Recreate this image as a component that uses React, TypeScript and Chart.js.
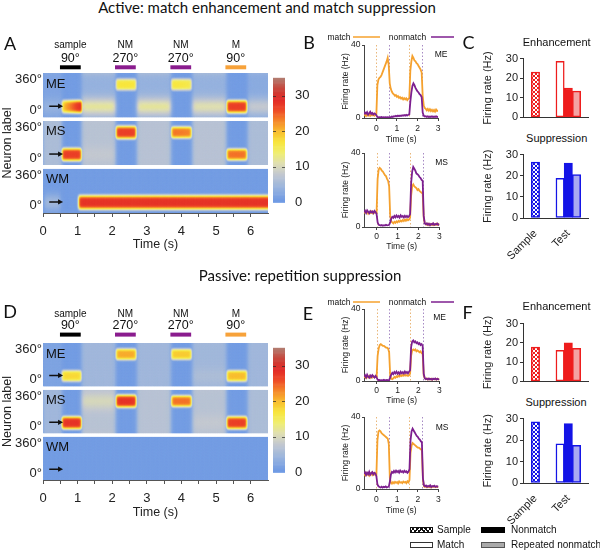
import React, { useEffect, useRef } from "react";
import { Chart, registerables } from "chart.js";

Chart.register(...registerables);

const FONT = "'Liberation Sans', Arial, Helvetica, sans-serif";
const TITLE_FONT = "Lato, 'Open Sans', sans-serif";
Chart.defaults.font.family = FONT;
Chart.defaults.color = "#222";

const ORANGE = "#f5a12e";
const PURPLE = "#7d1f8f";
const RED = "#ee1c1c";
const BLUE = "#1414e6";

// ---------------- Heatmap (panels A, D) ----------------
const heatTimeMax = 6.5;
const heatTicks = [0, 0.5, 1, 1.5, 2, 2.5, 3, 3.5, 4, 4.5, 5, 5.5, 6];
const stimOnsets = [0.49, 2.08, 3.68, 5.27];
const stimDuration = 0.6;
const stimNames = ["sample", "NM", "NM", "M"];
const stimAngles = ["90°", "270°", "270°", "90°"];
const stimColors = ["#000000", "#8a1c8e", "#8a1c8e", "#f7a23a"];
const rowNames = ["ME", "MS", "WM"];
const cueDeg = 90;
const arrowTimes = [0.18, 0.58];
const heatFloor = 1;
const rowTickDeg = [58, 305];
const rowTickLabels = ["0°", "360°"];

// delay background: [tStart, tEnd, baseRate, peakRate, peakDeg]
// response blobs: [tStart, tEnd, centerDeg, halfWidthDeg, rateStart, rateEnd]
const activeME_bg = [[0, 0.55, 2, 4, 90], [1.12, 2.1, 4, 12, 90], [2.72, 3.7, 4, 12, 90], [4.32, 5.3, 4, 11, 90], [5.92, 6.6, 3, 8, 90]];
const activeME_blobs = [[0.55, 1.14, 90, 55, 19, 30], [2.11, 2.7, 270, 50, 17, 17], [3.71, 4.3, 270, 50, 17, 16], [5.31, 5.9, 90, 55, 27, 27]];
const activeMS_bg = [[0, 0.55, 6, 6, 90], [1.12, 2.1, 7, 8, 90], [2.72, 3.7, 7, 7, 90], [4.32, 5.3, 7, 7, 90], [5.92, 6.6, 6, 6, 90]];
const activeMS_blobs = [[0.55, 1.12, 90, 55, 27, 27], [2.11, 2.7, 270, 55, 27, 27], [3.71, 4.3, 270, 50, 24, 23], [5.31, 5.9, 90, 50, 24, 24]];
const activeWM_bg = [[0.05, 0.5, 1, 5, 90]];
const activeWM_blobs = [[1.03, 6.8, 90, 60, 28, 28]];
const passiveME_bg = [[0, 0.55, 2, 2, 90], [1.12, 2.1, 5, 5, 90], [2.72, 3.7, 5, 5, 90], [4.32, 5.3, 5, 6, 90], [5.92, 6.6, 5, 5, 90]];
const passiveME_blobs = [[0.55, 1.12, 90, 50, 18, 18], [2.11, 2.7, 270, 50, 21, 21], [3.71, 4.3, 270, 48, 19, 19], [5.31, 5.9, 90, 50, 20, 20]];
const passiveMS_bg = [[0, 0.55, 5, 5, 90], [1.12, 2.1, 7, 10, 270], [2.72, 3.7, 7, 7, 90], [4.32, 5.3, 7, 8, 90], [5.92, 6.6, 6, 6, 90]];
const passiveMS_blobs = [[0.55, 1.12, 90, 55, 28, 28], [2.11, 2.7, 270, 55, 28, 28], [3.71, 4.3, 270, 50, 24, 24], [5.31, 5.9, 90, 55, 27, 27]];
const passiveWM_bg: number[][] = [];
const passiveWM_blobs: number[][] = [];

const colorbarTicks = [0, 10, 20, 30];
const colorbarMax = 35;
const cmapStops = [0, 4, 8, 11, 14, 17, 20, 23, 26, 29, 32, 35];
const cmapColors = [[105, 150, 228], [150, 178, 222], [195, 200, 208], [222, 222, 178], [240, 238, 112], [248, 230, 62], [248, 190, 48], [245, 135, 42], [238, 75, 40], [225, 42, 40], [200, 68, 58], [178, 124, 112]];

// ---------------- Firing-rate traces (panels B, E) ----------------
const lineTimes = [-0.6, -0.55, -0.5, -0.45, -0.4, -0.35, -0.3, -0.25, -0.2, -0.15, -0.1, -0.05, 0, 0.05, 0.1, 0.15, 0.2, 0.25, 0.3, 0.35, 0.4, 0.45, 0.5, 0.55, 0.6, 0.65, 0.7, 0.75, 0.8, 0.85, 0.9, 0.95, 1, 1.05, 1.1, 1.15, 1.2, 1.25, 1.3, 1.35, 1.4, 1.45, 1.5, 1.55, 1.6, 1.65, 1.7, 1.75, 1.8, 1.85, 1.9, 1.95, 2, 2.05, 2.1, 2.15, 2.2, 2.25, 2.3, 2.35, 2.4, 2.45, 2.5, 2.55, 2.6, 2.65, 2.7, 2.75, 2.8, 2.85, 2.9, 2.95, 3];
const lineTicks = [0, 1, 2, 3];
const rateTicks = [0, 40];
const eventTimes = [0, 0.6, 1.6, 2.2];
const eventColors = ["#e9b77a", "#a78ac4", "#e9b77a", "#a78ac4"];

const activeME_match = [1.2, 2.0, 1.0, 1.8, 1.3, 2.2, 1.1, 1.7, 1.4, 2.0, 1.2, 1.6,
  2.0, 18, 21, 22, 22.5, 23.5, 25, 26.5, 28, 29.5, 31, 33,
  29, 19, 16, 14.5, 13.5, 13, 12.2, 12.6, 11.6, 12, 11, 11.5, 10.6, 11.1, 10.2, 10.9, 10.2, 10.8, 9.8, 10.5,
  11, 26, 31, 34, 33, 31.5, 31, 30, 29.5, 28.5, 27.5, 26.5, 25,
  12, 7, 5.5, 5, 4.2, 5, 4, 4.8, 3.8, 4.5, 3.6, 4.4, 3.5, 4.6, 3.8, 4.2];
const activeME_nonmatch = [2.0, 3.0, 2.4, 3.2, 1.8, 2.6, 3.4, 2.2, 2.8, 1.9, 2.5, 2.2,
  1.5, 0.6, 0.4, 0.5, 0.3, 0.5, 0.2, 0.4, 0.3, 0.5, 0.3, 0.4,
  0.3, 0.5, 0.4, 0.8, 0.6, 1.0, 0.8, 1.2, 0.9, 1.3, 1.0, 1.4, 1.1, 1.5, 1.2, 1.6, 1.3, 1.7, 1.4, 1.8,
  2.0, 9, 14, 17.5, 19, 18, 16.5, 15.5, 14.5, 14, 13, 12.5, 11.5,
  3, 1.2, 0.8, 1.0, 0.6, 0.9, 0.5, 0.8, 0.6, 0.9, 0.5, 0.8, 0.6, 0.9, 0.5, 0.7];
const activeMS_match = [7.5, 8.2, 7.8, 8.5, 7.2, 8.0, 7.6, 8.3, 7.4, 8.1, 7.7, 7.9,
  8, 26, 31, 32, 31.5, 30.5, 30, 29, 28, 27.5, 26, 25,
  22, 6, 3, 2.5, 2, 2.8, 2.2, 3, 2.5, 3.3, 2.8, 3.5, 3, 3.8, 3.2, 4, 3.4, 4.2, 3.6, 4,
  5, 17, 22, 23, 22, 21.5, 21, 20, 20.5, 19.5, 19, 18.5, 18,
  5, 2, 1.5, 1.2, 1.8, 1.0, 1.6, 1.1, 1.7, 1.0, 1.5, 1.2, 1.8, 1.1, 1.6, 1.3];
const activeMS_nonmatch = [8.0, 8.8, 7.6, 9.0, 8.2, 7.4, 8.6, 7.9, 8.4, 7.5, 8.7, 8.1,
  7, 2.5, 1.2, 1.0, 0.8, 1.1, 0.7, 1.0, 0.8, 1.2, 0.9, 1.0,
  1.2, 2.5, 4.5, 5.5, 5, 6, 5.2, 6.2, 5.4, 6, 5.1, 6.3, 5.5, 5.9, 5.2, 6.1, 5.4, 6.0, 5.3, 5.8,
  7, 24, 30, 32.5, 31.5, 30.5, 29, 28.5, 28, 27, 26.5, 25.5, 25,
  6, 2, 1.5, 2.0, 1.2, 1.8, 1.0, 1.7, 1.3, 2.0, 1.1, 1.6, 1.4, 1.9, 1.2, 1.5];
const passiveME_match = [1.8, 2.5, 1.6, 2.2, 2.0, 2.8, 1.7, 2.4, 1.9, 2.6, 2.1, 2.3,
  2, 14, 18, 20, 20.5, 20, 19.5, 19.5, 19, 18.5, 18.5, 18,
  16, 3, 1.2, 1.0, 1.5, 2.2, 1.8, 2.6, 2.2, 3.0, 2.5, 3.2, 2.8, 3.4, 2.9, 3.5, 3.0, 3.3, 2.8, 3.2,
  4, 14, 17, 17.5, 17, 17.5, 16.5, 17, 16.5, 16, 16.5, 15.5, 15,
  3, 1.5, 1.0, 1.4, 0.8, 1.2, 0.9, 1.3, 0.7, 1.1, 0.9, 1.2, 0.8, 1.3, 0.9, 1.1];
const passiveME_nonmatch = [2.5, 3.2, 2.0, 3.5, 2.4, 1.8, 3.0, 2.2, 3.3, 2.6, 1.9, 2.8,
  2, 0.8, 0.4, 0.6, 0.3, 0.5, 0.4, 0.7, 0.3, 0.5, 0.6, 0.4,
  0.5, 2, 3.5, 4.5, 3.8, 5, 4.2, 5.2, 4, 4.8, 3.9, 5.1, 4.3, 4.9, 4.1, 5.3, 4.4, 5.0, 4.2, 5.2,
  6, 19, 22, 22.5, 21.5, 22, 21, 21.5, 20.5, 21, 20, 20.5, 19.5,
  4, 1.5, 1.0, 1.3, 0.8, 1.4, 0.9, 1.2, 0.7, 1.3, 1.0, 1.4, 0.8, 1.2, 0.9, 1.1];
const passiveMS_match = [8.2, 7.6, 8.8, 7.9, 8.5, 7.4, 8.3, 8.9, 7.7, 8.4, 8.0, 8.6,
  8, 27, 32, 32.5, 32, 31, 30.5, 30, 29.5, 29, 28.5, 28,
  25, 6, 3.5, 3, 3.8, 3.2, 4, 3.4, 3.9, 3.1, 4.2, 3.5, 3.8, 3.3, 4.1, 3.6, 3.9, 3.2, 4.3, 3.7,
  5, 20, 24, 25.5, 25, 24.5, 24, 23.5, 23, 23, 22.5, 22, 21.5,
  5, 1.5, 1.2, 1.6, 1.0, 1.4, 1.1, 1.7, 0.9, 1.3, 1.2, 1.5, 1.0, 1.4, 1.1, 1.3];
const passiveMS_nonmatch = [8.5, 9.3, 7.8, 9.1, 8.2, 9.6, 7.9, 8.8, 9.4, 8.1, 9.0, 8.6,
  7, 2.5, 1.5, 1.1, 0.9, 1.3, 0.8, 1.2, 1.0, 1.4, 0.9, 1.1,
  1.3, 4, 8, 9.5, 9, 10, 9.2, 10.2, 9.4, 10, 9.1, 10.3, 9.5, 9.9, 9.2, 10.1, 9.4, 9.8, 9.0, 9.6,
  11, 27, 32, 33.5, 32.5, 31.5, 30.5, 29.5, 29, 28, 27.5, 26.5, 26,
  6, 2, 1.5, 1.9, 1.2, 1.7, 1.3, 2.0, 1.1, 1.6, 1.4, 1.8, 1.2, 1.5, 1.3, 1.6];

// ---------------- Bars (panels C, F) ----------------
const barGroups = ["Sample", "Test"];
const barConditions = ["Sample", "Match", "Nonmatch", "Repeated nonmatch"];
const barGroupOf = [0, 1, 1, 1];
const barOffsetOf = [0, -0.25, 0, 0.25];
const activeEnhancement = [23.1, 28.6, 15.0, 13.4];
const activeSuppression = [26.5, 18.8, 26.0, 20.6];
const passiveEnhancement = [17.8, 16.1, 20.0, 17.1];
const passiveSuppression = [28.5, 18.3, 27.7, 17.6];
const barTicks = [0, 10, 20, 30];

// ---------------- helpers ----------------
type Box = { x: number; y: number; w: number; h: number };
type Area = { l: number; t: number; r: number; b: number };

const ROW_SPAN = 360;
const ROW_GAP = 30;
const HEAT_YMAX = 3 * ROW_SPAN + 2 * ROW_GAP;
const rowBase = (r: number) => (2 - r) * (ROW_SPAN + ROW_GAP);

function sig(z: number) { return 1 / (1 + Math.exp(-z)); }
function win(t: number, a: number, b: number, s: number) { return sig((t - a) / s) * sig((b - t) / s); }
function angDist(a: number, b: number) { const d = Math.abs(a - b) % 360; return d > 180 ? 360 - d : d; }

function cellRate(row: any, t: number, deg: number) {
  let v = heatFloor;
  for (const [t0, t1, base, peak, c] of row.bg) {
    const w = win(t, t0, t1, 0.03);
    if (w < 0.01) continue;
    const g = Math.exp(-Math.pow(angDist(deg, c) / 70, 2));
    const lvl = base + (peak - base) * g;
    v = Math.max(v, heatFloor + (lvl - heatFloor) * w);
  }
  for (const [t0, t1, c, hw, r0, r1] of row.blobs) {
    const w = win(t, t0, t1, 0.02);
    if (w < 0.005) continue;
    const f = Math.min(1, Math.max(0, (t - t0) / (t1 - t0)));
    const g = Math.exp(-Math.pow(angDist(deg, c) / hw, 4));
    v = Math.max(v, (r0 + (r1 - r0) * f) * w * g);
  }
  return v;
}

function rateColor(v: number) {
  const x = Math.min(colorbarMax, Math.max(0, v));
  let i = 0;
  while (i < cmapStops.length - 2 && x > cmapStops[i + 1]) i++;
  const f = (x - cmapStops[i]) / (cmapStops[i + 1] - cmapStops[i]);
  const a = cmapColors[i], b = cmapColors[i + 1];
  return `rgb(${Math.round(a[0] + (b[0] - a[0]) * f)},${Math.round(a[1] + (b[1] - a[1]) * f)},${Math.round(a[2] + (b[2] - a[2]) * f)})`;
}

function hatch(color: string) {
  const c = document.createElement("canvas");
  c.width = 4; c.height = 4;
  const g = c.getContext("2d")!;
  g.fillStyle = "#fff"; g.fillRect(0, 0, 4, 4);
  g.strokeStyle = color; g.lineWidth = 1;
  g.beginPath(); g.moveTo(0, 0); g.lineTo(4, 4); g.moveTo(4, 0); g.lineTo(0, 4); g.stroke();
  return g.createPattern(c, "repeat");
}

const activeRows = [
  { name: rowNames[0], bg: activeME_bg, blobs: activeME_blobs },
  { name: rowNames[1], bg: activeMS_bg, blobs: activeMS_blobs },
  { name: rowNames[2], bg: activeWM_bg, blobs: activeWM_blobs },
];
const passiveRows = [
  { name: rowNames[0], bg: passiveME_bg, blobs: passiveME_blobs },
  { name: rowNames[1], bg: passiveMS_bg, blobs: passiveMS_blobs },
  { name: rowNames[2], bg: passiveWM_bg, blobs: passiveWM_blobs },
];

const heatSpecs = [
  { canvas: { x: 0, y: 36, w: 272, h: 222 }, area: { l: 43, t: 73, r: 268, b: 213 }, tickPad: 6.5, titlePad: 5.5, rows: activeRows, stimOff: [27.3, 14.4, 7.7] },
  { canvas: { x: 0, y: 305, w: 272, h: 222 }, area: { l: 43, t: 343, r: 268, b: 480 }, tickPad: 7, titlePad: 7, rows: passiveRows, stimOff: [28.5, 17.3, 10.4] },
];
const cbarSpecs = [
  { canvas: { x: 270, y: 60, w: 45, h: 160 }, area: { l: 273, t: 73, r: 285, b: 212 } },
  { canvas: { x: 270, y: 330, w: 45, h: 160 }, area: { l: 273, t: 342, r: 285, b: 480 } },
];
const lineSpecs = [
  { canvas: { x: 335, y: 38, w: 108, h: 108 }, area: { l: 364, t: 45, r: 440, b: 118 }, tickPad: 2.5, titlePad: 1.6, match: activeME_match, nonmatch: activeME_nonmatch },
  { canvas: { x: 335, y: 146, w: 108, h: 108 }, area: { l: 364, t: 153, r: 440, b: 227 }, tickPad: 1.2, titlePad: 2.2, match: activeMS_match, nonmatch: activeMS_nonmatch },
  { canvas: { x: 335, y: 302, w: 108, h: 108 }, area: { l: 364, t: 309, r: 440, b: 381 }, tickPad: 1.2, titlePad: 4.5, match: passiveME_match, nonmatch: passiveME_nonmatch },
  { canvas: { x: 335, y: 410, w: 108, h: 108 }, area: { l: 364, t: 417, r: 440, b: 489 }, tickPad: 2.2, titlePad: 2.2, match: passiveMS_match, nonmatch: passiveMS_nonmatch },
];
const barSpecs = [
  { canvas: { x: 480, y: 50, w: 112, h: 76 }, area: { l: 523, t: 58, r: 588, b: 123 }, values: activeEnhancement, color: RED, light: "#f4a3a3", labels: false },
  { canvas: { x: 480, y: 146, w: 112, h: 124 }, area: { l: 523, t: 154, r: 588, b: 218 }, values: activeSuppression, color: BLUE, light: "#a9a9f2", labels: true },
  { canvas: { x: 480, y: 315, w: 112, h: 75 }, area: { l: 523, t: 323, r: 588, b: 387 }, values: passiveEnhancement, color: RED, light: "#f4a3a3", labels: false },
  { canvas: { x: 480, y: 410, w: 112, h: 128 }, area: { l: 523, t: 418, r: 588, b: 483 }, values: passiveSuppression, color: BLUE, light: "#a9a9f2", labels: true },
];

const ALL_CANVASES: Box[] = [
  ...heatSpecs.map((s) => s.canvas),
  ...cbarSpecs.map((s) => s.canvas),
  ...lineSpecs.map((s) => s.canvas),
  ...barSpecs.map((s) => s.canvas),
];

function frame(c: Box, a: Area) {
  return { padTop: a.t - c.y, padRight: c.x + c.w - a.r, yW: a.l - c.x, xH: c.y + c.h - a.b };
}

const baseOpts = {
  animation: false as const,
  responsive: false,
  events: [] as any[],
  plugins: { legend: { display: false }, tooltip: { enabled: false } },
};

function makeHeatmap(cv: HTMLCanvasElement, spec: any) {
  const f = frame(spec.canvas, spec.area);
  const rows = spec.rows;
  const yTicks: number[] = [];
  const yLabels: string[] = [];
  [2, 1, 0].forEach((r) => rowTickDeg.forEach((d, k) => { yTicks.push(rowBase(r) + d); yLabels.push(rowTickLabels[k]); }));
  const plugin = {
    id: "heatcells",
    beforeDatasetsDraw(chart: any) {
      const { ctx, chartArea: a, scales } = chart;
      const x = scales.x, y = scales.y;
      const DT = 0.02, DD = 5;
      const nT = Math.round(heatTimeMax / DT), nD = Math.round(360 / DD);
      rows.forEach((row: any, r: number) => {
        const base = rowBase(r);
        const top = y.getPixelForValue(base + ROW_SPAN), bot = y.getPixelForValue(base);
        ctx.save();
        ctx.beginPath(); ctx.rect(a.left, top, a.right - a.left, bot - top); ctx.clip();
        for (let i = 0; i < nT; i++) {
          const t = i * DT;
          const px0 = x.getPixelForValue(t), px1 = x.getPixelForValue(t + DT);
          for (let j = 0; j < nD; j++) {
            const d = j * DD;
            ctx.fillStyle = rateColor(cellRate(row, t + DT / 2, d + DD / 2));
            const py0 = y.getPixelForValue(base + d + DD), py1 = y.getPixelForValue(base + d);
            ctx.fillRect(px0, py0, px1 - px0 + 0.6, py1 - py0 + 0.6);
          }
        }
        // arrow marking the cue label
        const ay = y.getPixelForValue(base + cueDeg);
        const ax0 = x.getPixelForValue(arrowTimes[0]), ax1 = x.getPixelForValue(arrowTimes[1]);
        ctx.strokeStyle = "#111"; ctx.fillStyle = "#111"; ctx.lineWidth = 1.5;
        ctx.beginPath(); ctx.moveTo(ax0, ay); ctx.lineTo(ax1 - 4, ay); ctx.stroke();
        ctx.beginPath(); ctx.moveTo(ax1, ay); ctx.lineTo(ax1 - 5, ay - 2.6); ctx.lineTo(ax1 - 5, ay + 2.6); ctx.closePath(); ctx.fill();
        ctx.font = `13px ${FONT}`; ctx.textAlign = "left"; ctx.textBaseline = "alphabetic";
        ctx.fillText(row.name, a.left + 3, top + 14.5);
        ctx.restore();
      });
    },
    afterDraw(chart: any) {
      const { ctx, chartArea: a, scales } = chart;
      const x = scales.x;
      ctx.save();
      ctx.textAlign = "center"; ctx.textBaseline = "middle"; ctx.fillStyle = "#111";
      stimOnsets.forEach((on, i) => {
        const p0 = x.getPixelForValue(on), p1 = x.getPixelForValue(on + stimDuration);
        const cx = (p0 + p1) / 2;
        ctx.font = `10px ${FONT}`; ctx.fillStyle = "#111";
        ctx.fillText(stimNames[i], cx, a.top - spec.stimOff[0]);
        ctx.font = `12.5px ${FONT}`;
        ctx.fillText(stimAngles[i], cx, a.top - spec.stimOff[1]);
        ctx.fillStyle = stimColors[i];
        ctx.fillRect(p0, a.top - spec.stimOff[2], p1 - p0, 4);
      });
      ctx.restore();
    },
  };
  return new Chart(cv, {
    type: "scatter",
    data: { datasets: [] },
    options: {
      ...baseOpts,
      layout: { padding: { top: f.padTop, right: f.padRight, left: 0, bottom: 0 } },
      scales: {
        x: {
          type: "linear", min: 0, max: heatTimeMax, z: 1,
          afterFit: (s: any) => { s.height = f.xH; },
          afterBuildTicks: (s: any) => { s.ticks = heatTicks.map((v) => ({ value: v })); },
          ticks: { autoSkip: false, maxRotation: 0, padding: spec.tickPad, font: { size: 13 }, color: "#222", callback: (v: any) => (Number.isInteger(v) ? String(v) : "") },
          grid: { drawOnChartArea: false, tickLength: 4, color: "#555" },
          border: { color: "#555" },
          title: { display: true, text: "Time (s)", font: { size: 12.5 }, color: "#222", padding: { top: 0, bottom: spec.titlePad } },
        },
        y: {
          type: "linear", min: 0, max: HEAT_YMAX,
          afterFit: (s: any) => { s.width = f.yW; },
          afterBuildTicks: (s: any) => { s.ticks = yTicks.map((v) => ({ value: v })); },
          ticks: { autoSkip: false, padding: 1, font: { size: 13 }, color: "#222", callback: (v: any) => yLabels[yTicks.indexOf(v)] ?? "" },
          grid: { display: false, drawTicks: false },
          border: { display: false },
          title: { display: true, text: "Neuron label", font: { size: 12.5 }, color: "#222", padding: { top: 0, bottom: 0 } },
        },
      },
    } as any,
    plugins: [plugin],
  });
}

function makeColorbar(cv: HTMLCanvasElement, spec: any) {
  const c = spec.canvas, a0 = spec.area;
  const plugin = {
    id: "cbar",
    beforeDatasetsDraw(chart: any) {
      const { ctx, chartArea: a, scales } = chart;
      const y = scales.y;
      const step = 0.25;
      for (let i = 0; i < colorbarMax / step; i++) {
        const v = i * step;
        ctx.fillStyle = rateColor(v + step / 2);
        const p0 = y.getPixelForValue(v + step), p1 = y.getPixelForValue(v);
        ctx.fillRect(a.left, p0, a.right - a.left, p1 - p0 + 0.6);
      }
      ctx.strokeStyle = "rgba(40,40,40,0.7)"; ctx.lineWidth = 1;
      colorbarTicks.slice(1).forEach((v) => {
        const p = Math.round(y.getPixelForValue(v)) + 0.5;
        ctx.beginPath(); ctx.moveTo(a.left, p); ctx.lineTo(a.left + 3, p); ctx.moveTo(a.right - 3, p); ctx.lineTo(a.right, p); ctx.stroke();
      });
    },
  };
  return new Chart(cv, {
    type: "scatter",
    data: { datasets: [] },
    options: {
      ...baseOpts,
      layout: { padding: { top: a0.t - c.y, left: a0.l - c.x, right: 0, bottom: c.y + c.h - a0.b } },
      scales: {
        x: { display: false, min: 0, max: 1 },
        y: {
          position: "right", min: 0, max: colorbarMax,
          afterFit: (s: any) => { s.width = c.x + c.w - a0.r; },
          afterBuildTicks: (s: any) => { s.ticks = colorbarTicks.map((v) => ({ value: v })); },
          ticks: { padding: 10, font: { size: 13 }, color: "#222" },
          grid: { display: false, drawTicks: false },
          border: { display: false },
        },
      },
    } as any,
    plugins: [plugin],
  });
}

const eventLinesPlugin = {
  id: "eventlines",
  beforeDatasetsDraw(chart: any) {
    const { ctx, chartArea: a, scales } = chart;
    ctx.save();
    ctx.lineWidth = 1; ctx.setLineDash([1.5, 2]);
    eventTimes.forEach((t, i) => {
      const px = Math.round(scales.x.getPixelForValue(t)) + 0.5;
      ctx.strokeStyle = eventColors[i];
      ctx.beginPath(); ctx.moveTo(px, a.top); ctx.lineTo(px, a.bottom); ctx.stroke();
    });
    ctx.restore();
  },
};

function makeLine(cv: HTMLCanvasElement, spec: any) {
  const f = frame(spec.canvas, spec.area);
  const pts = (vals: number[]) => lineTimes.map((t, i) => ({ x: t, y: vals[i] }));
  return new Chart(cv, {
    type: "line",
    data: {
      datasets: [
        { label: "nonmatch", data: pts(spec.nonmatch), borderColor: PURPLE, borderWidth: 1.8, pointRadius: 0, tension: 0 },
        { label: "match", data: pts(spec.match), borderColor: ORANGE, borderWidth: 1.8, pointRadius: 0, tension: 0 },
      ],
    },
    options: {
      ...baseOpts,
      layout: { padding: { top: f.padTop, right: f.padRight, left: 0, bottom: 0 } },
      scales: {
        x: {
          type: "linear", min: -0.6, max: 3,
          afterFit: (s: any) => { s.height = f.xH; },
          afterBuildTicks: (s: any) => { s.ticks = lineTicks.map((v) => ({ value: v })); },
          ticks: { autoSkip: false, maxRotation: 0, padding: spec.tickPad, font: { size: 8.5 }, color: "#222" },
          grid: { drawOnChartArea: false, tickLength: 3, color: "#444" },
          border: { color: "#444" },
          title: { display: true, text: "Time (s)", font: { size: 8.5 }, color: "#222", padding: { top: 0, bottom: spec.titlePad } },
        },
        y: {
          type: "linear", min: 0, max: 40,
          afterFit: (s: any) => { s.width = f.yW; },
          afterBuildTicks: (s: any) => { s.ticks = rateTicks.map((v) => ({ value: v })); },
          ticks: { padding: 1.5, font: { size: 8.5 }, color: "#222" },
          grid: { drawOnChartArea: false, tickLength: 2, color: "#444" },
          border: { color: "#444" },
          title: { display: true, text: "Firing rate (Hz)", font: { size: 8.5 }, color: "#222", padding: { top: 5.6, bottom: 0 } },
        },
      },
    } as any,
    plugins: [eventLinesPlugin],
  });
}

function makeBars(cv: HTMLCanvasElement, spec: any) {
  const f = frame(spec.canvas, spec.area);
  const fills = [hatch(spec.color), "#ffffff", spec.color, spec.light];
  return new Chart(cv, {
    type: "bar",
    data: {
      datasets: barConditions.map((name, i) => ({
        label: name,
        data: [{ x: barGroupOf[i] + 1 + barOffsetOf[i], y: spec.values[i] }],
        backgroundColor: fills[i],
        borderColor: spec.color,
        borderWidth: 1.5,
        borderSkipped: false,
        barThickness: 8.3,
        grouped: false,
      })),
    },
    options: {
      ...baseOpts,
      layout: { padding: { top: f.padTop, right: f.padRight, left: 0, bottom: 0 } },
      scales: {
        x: {
          type: "linear", min: 0.62, max: 2.6, offset: false,
          afterFit: (s: any) => { s.height = f.xH; },
          afterBuildTicks: (s: any) => { s.ticks = barGroups.map((_, i) => ({ value: i + 1 })); },
          ticks: { display: spec.labels, autoSkip: false, minRotation: 45, maxRotation: 45, padding: 1, font: { size: 11 }, color: "#222", callback: (v: any) => barGroups[Math.round(v) - 1] ?? "" },
          grid: { display: false, offset: false },
          border: { display: true, color: "#333" },
        },
        y: {
          type: "linear", min: 0, max: 30,
          afterFit: (s: any) => { s.width = f.yW; },
          afterBuildTicks: (s: any) => { s.ticks = barTicks.map((v) => ({ value: v })); },
          ticks: { padding: 2, font: { size: 11 }, color: "#222" },
          grid: { drawOnChartArea: false, tickLength: 3, color: "#333" },
          border: { color: "#333" },
          title: { display: true, text: "Firing rate (Hz)", font: { size: 11 }, color: "#222", padding: { top: 1.7, bottom: 0 } },
        },
      },
    } as any,
  });
}

function Txt(props: { x: number; y: number; size: number; text: string; family?: string; align?: "center" | "left" }) {
  const { x, y, size, text, family, align } = props;
  return (
    <div style={{ position: "absolute", left: x, top: y, transform: align === "left" ? "translate(0,-50%)" : "translate(-50%,-50%)", fontFamily: family || FONT, fontSize: size, lineHeight: 1, whiteSpace: "nowrap", color: "#111" }}>
      {text}
    </div>
  );
}

function Swatch(props: { x: number; y: number; w: number; h: number; style: any }) {
  return <div style={{ position: "absolute", left: props.x, top: props.y, width: props.w, height: props.h, boxSizing: "border-box", ...props.style }} />;
}

export default function App() {
  const refs = useRef<(HTMLCanvasElement | null)[]>([]);
  useEffect(() => {
    const cs = refs.current as HTMLCanvasElement[];
    const charts: Chart[] = [];
    let k = 0;
    heatSpecs.forEach((s) => charts.push(makeHeatmap(cs[k++], s)));
    cbarSpecs.forEach((s) => charts.push(makeColorbar(cs[k++], s)));
    lineSpecs.forEach((s) => charts.push(makeLine(cs[k++], s)));
    barSpecs.forEach((s) => charts.push(makeBars(cs[k++], s)));
    return () => charts.forEach((c) => c.destroy());
  }, []);

  const hatchCss = "repeating-linear-gradient(45deg, #111 0 1px, transparent 1px 3px), repeating-linear-gradient(-45deg, #111 0 1px, transparent 1px 3px), #fff";

  return (
    <div style={{ position: "absolute", left: 0, top: 0, width: 600, height: 551, background: "#fff", overflow: "hidden" }}>
      {ALL_CANVASES.map((b, i) => (
        <canvas key={i} ref={(el) => { refs.current[i] = el; }} width={b.w} height={b.h} style={{ position: "absolute", left: b.x, top: b.y, width: b.w, height: b.h }} />
      ))}
      <Txt x={267} y={6.5} size={15} family={TITLE_FONT} text="Active: match enhancement and match suppression" />
      <Txt x={300} y={274.5} size={15} family={TITLE_FONT} text="Passive: repetition suppression" />
      <Txt x={10} y={43} size={18} family={TITLE_FONT} text="A" />
      <Txt x={309} y={41.5} size={18} family={TITLE_FONT} text="B" />
      <Txt x={468.5} y={41.5} size={18} family={TITLE_FONT} text="C" />
      <Txt x={10} y={311} size={18} family={TITLE_FONT} text="D" />
      <Txt x={308} y={312.5} size={18} family={TITLE_FONT} text="E" />
      <Txt x={467.5} y={311.5} size={18} family={TITLE_FONT} text="F" />

      {/* B / E legends */}
      {[37, 302].map((ly) => (
        <React.Fragment key={ly}>
          <Txt x={339} y={ly} size={8.5} text="match" />
          <Swatch x={353} y={ly - 0.6} w={27} h={1.3} style={{ background: ORANGE, opacity: 0.75 }} />
          <Txt x={407.5} y={ly} size={8.5} text="nonmatch" />
          <Swatch x={431} y={ly - 0.6} w={23} h={1.3} style={{ background: PURPLE, opacity: 0.75 }} />
        </React.Fragment>
      ))}
      <Txt x={441} y={54} size={8.5} text="ME" />
      <Txt x={441.5} y={162.3} size={8.5} text="MS" />
      <Txt x={439.5} y={317.3} size={8.5} text="ME" />
      <Txt x={442} y={426.7} size={8.5} text="MS" />

      {/* C / F titles */}
      <Txt x={556.7} y={41.7} size={11} text="Enhancement" />
      <Txt x={556.7} y={138.3} size={11} text="Suppression" />
      <Txt x={556.5} y={306} size={11} text="Enhancement" />
      <Txt x={556} y={401.7} size={11} text="Suppression" />

      {/* bottom legend */}
      <Swatch x={410} y={527} w={23} h={6} style={{ background: hatchCss, border: "1px solid #111" }} />
      <Txt x={437} y={530} size={10} align="left" text={barConditions[0]} />
      <Swatch x={410} y={542} w={23} h={6} style={{ background: "#fff", border: "1px solid #333" }} />
      <Txt x={437} y={545} size={10} align="left" text={barConditions[1]} />
      <Swatch x={481} y={527} w={24} h={6} style={{ background: "#000" }} />
      <Txt x={511} y={530} size={10} align="left" text={barConditions[2]} />
      <Swatch x={481} y={542} w={24} h={6} style={{ background: "#aaaaaa", border: "1px solid #555" }} />
      <Txt x={511} y={545} size={10} align="left" text={barConditions[3]} />
    </div>
  );
}
